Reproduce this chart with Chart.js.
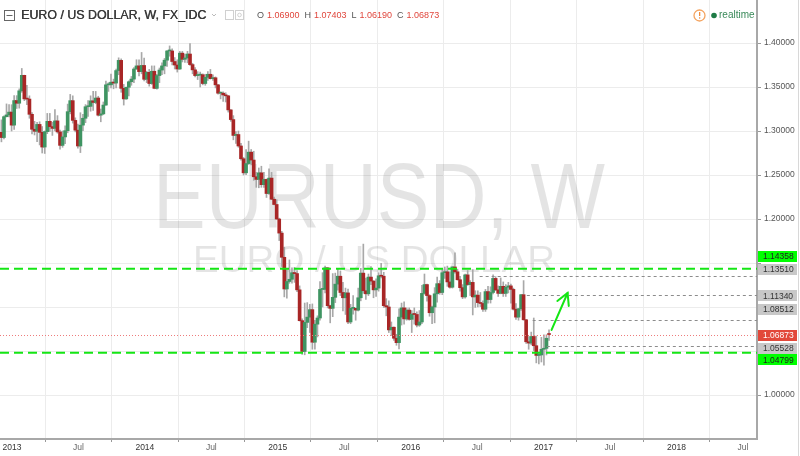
<!DOCTYPE html>
<html><head><meta charset="utf-8">
<script src="https://cdn.jsdelivr.net/npm/chart.js@4/dist/chart.umd.min.js"></script>
<style>html,body{margin:0;padding:0;background:#fff}#wrap{position:relative;width:800px;height:456px}</style>
</head><body><div id="wrap"><canvas id="c"></canvas></div>
<script>
// ---- DATA (weekly EURUSD candles) ----
const firstWeek = '2012-11-26';
const openP = [
1.2973,1.2985,1.2926,1.3163,1.3183,1.3215,
1.3067,1.3346,1.3316,1.3457,1.3633,1.3365,1.3363,1.3190,1.3020,1.2997,1.3075,1.2985,1.2818,1.2993,1.3110,1.3050,1.3030,1.3115,1.2990,1.2837,1.2933,1.3004,1.3220,1.3345,1.3121,1.3010,1.2830,1.3067,1.3145,1.3276,1.3280,1.3343,1.3325,1.3375,1.3180,1.3195,1.3295,1.3525,1.3525,1.3555,1.3545,1.3687,1.3803,1.3485,1.3365,1.3497,1.3560,1.3590,1.3705,1.3740,1.3675,1.3745,
1.3588,1.3667,1.3540,1.3679,1.3485,1.3630,1.3693,1.3740,1.3805,1.3910,1.3910,1.3790,1.3750,1.3705,1.3885,1.3815,1.3830,1.3875,1.3755,1.3695,1.3630,1.3635,1.3640,1.3540,1.3610,1.3645,1.3595,1.3605,1.3525,1.3430,1.3430,1.3410,1.3400,1.3240,1.3130,1.2950,1.2960,1.2830,1.2685,1.2525,1.2630,1.2760,1.2670,1.2480,1.2450,1.2525,1.2390,1.2450,1.2290,1.2465,1.2225,1.2165,
1.2000,1.1840,1.1565,1.1205,1.1290,1.1315,1.1390,1.1380,1.1195,1.0845,1.0495,1.0825,1.0885,1.0970,1.0600,1.0805,1.0875,1.1200,1.1200,1.1445,1.1015,1.0985,1.1110,1.1260,1.1350,1.1165,1.1105,1.1160,1.0830,1.0985,1.0985,1.0965,1.1105,1.1385,1.1185,1.1150,1.1340,1.1295,1.1195,1.1215,1.1355,1.1350,1.1015,1.1000,1.0740,1.0770,1.0645,1.0595,1.0885,1.0990,1.0865,1.0965,
1.0860,1.0920,1.0915,1.0795,1.0830,1.1155,1.1255,1.1130,1.0935,1.1000,1.1150,1.1265,1.1165,1.1390,1.1400,1.1285,1.1225,1.1455,1.1400,1.1310,1.1220,1.1115,1.1365,1.1255,1.1280,1.1115,1.1135,1.1050,1.1040,1.0975,1.1175,1.1085,1.1165,1.1325,1.1195,1.1155,1.1235,1.1155,1.1225,1.1240,1.1200,1.0975,1.0885,1.0980,1.1140,1.0855,1.0605,1.0590,1.0665,1.0560,1.0450,1.0455,
1.0520,1.0530,1.0690];
const highP = [
1.3020,1.3127,1.3173,1.3308,1.3300,1.3299,
1.3404,1.3402,1.3479,1.3711,1.3635,1.3520,1.3400,1.3210,1.3110,1.3100,1.3105,1.3051,1.3000,1.3200,1.3200,1.3100,1.3245,1.3175,1.3010,1.3000,1.3060,1.3306,1.3416,1.3400,1.3150,1.3080,1.3208,1.3190,1.3300,1.3345,1.3400,1.3452,1.3450,1.3395,1.3250,1.3330,1.3568,1.3550,1.3646,1.3590,1.3705,1.3832,1.3820,1.3530,1.3500,1.3570,1.3620,1.3720,1.3810,1.3810,1.3893,1.3830,
1.3680,1.3700,1.3740,1.3740,1.3645,1.3716,1.3775,1.3825,1.3915,1.3967,1.3935,1.3835,1.3810,1.3905,1.3905,1.3875,1.3905,1.3993,1.3770,1.3720,1.3675,1.3670,1.3650,1.3645,1.3675,1.3700,1.3640,1.3615,1.3530,1.3445,1.3445,1.3435,1.3405,1.3245,1.3175,1.2995,1.3000,1.2860,1.2700,1.2790,1.2885,1.2790,1.2770,1.2530,1.2580,1.2600,1.2530,1.2455,1.2570,1.2530,1.2250,1.2220,
1.2010,1.1860,1.1680,1.1425,1.1535,1.1445,1.1450,1.1415,1.1240,1.0865,1.1045,1.1050,1.1030,1.1035,1.0850,1.0900,1.1290,1.1390,1.1465,1.1450,1.1020,1.1380,1.1385,1.1435,1.1410,1.1280,1.1215,1.1205,1.1030,1.1130,1.0990,1.1215,1.1440,1.1715,1.1330,1.1375,1.1460,1.1300,1.1320,1.1390,1.1495,1.1395,1.1095,1.1070,1.0830,1.0775,1.0690,1.0980,1.1045,1.1060,1.0990,1.0990,
1.0960,1.0990,1.0945,1.0960,1.1245,1.1375,1.1260,1.1140,1.1010,1.1220,1.1340,1.1300,1.1440,1.1455,1.1465,1.1400,1.1460,1.1615,1.1430,1.1350,1.1255,1.1375,1.1415,1.1300,1.1425,1.1185,1.1185,1.1165,1.1070,1.1200,1.1235,1.1230,1.1365,1.1345,1.1240,1.1330,1.1285,1.1255,1.1280,1.1260,1.1215,1.1040,1.0985,1.1145,1.1300,1.0860,1.0665,1.0715,1.0875,1.0670,1.0485,1.0655,
1.0685,1.0685,1.07403];
const lowP = [
1.2920,1.2877,1.2910,1.3159,1.3160,1.3000,
1.3018,1.3256,1.3260,1.3440,1.3345,1.3300,1.3145,1.2967,1.2955,1.2880,1.2842,1.2750,1.2745,1.2970,1.2995,1.2950,1.3000,1.2975,1.2795,1.2815,1.2855,1.2980,1.3195,1.3090,1.2990,1.2805,1.2755,1.3005,1.3095,1.3165,1.3225,1.3235,1.3310,1.3170,1.3105,1.3185,1.3290,1.3450,1.3490,1.3480,1.3490,1.3640,1.3440,1.3295,1.3360,1.3400,1.3520,1.3550,1.3700,1.3625,1.3650,1.3570,
1.3550,1.3510,1.3530,1.3480,1.3475,1.3550,1.3640,1.3650,1.3735,1.3850,1.3750,1.3705,1.3670,1.3700,1.3785,1.3780,1.3775,1.3745,1.3650,1.3615,1.3585,1.3500,1.3525,1.3520,1.3575,1.3590,1.3575,1.3490,1.3420,1.3365,1.3335,1.3330,1.3215,1.3110,1.2900,1.2860,1.2815,1.2670,1.2500,1.2505,1.2620,1.2615,1.2440,1.2360,1.2355,1.2360,1.2360,1.2245,1.2280,1.2220,1.2160,1.1995,
1.1755,1.1460,1.1115,1.1100,1.1270,1.1270,1.1280,1.1175,1.0840,1.0462,1.0457,1.0765,1.0710,1.0520,1.0520,1.0660,1.0850,1.1000,1.1160,1.0990,1.0820,1.0890,1.1050,1.1190,1.1130,1.0955,1.0915,1.0810,1.0810,1.0920,1.0850,1.0955,1.1070,1.1155,1.1085,1.1130,1.1255,1.1105,1.1120,1.1180,1.1330,1.0995,1.0900,1.0710,1.0675,1.0620,1.0565,1.0525,1.0795,1.0805,1.0850,1.0850,
1.0710,1.0805,1.0775,1.0780,1.0810,1.1145,1.1065,1.0895,1.0810,1.0820,1.1055,1.1145,1.1140,1.1325,1.1235,1.1215,1.1215,1.1385,1.1305,1.1180,1.1095,1.1100,1.1245,1.1130,1.0910,1.0995,1.1000,1.1005,1.0950,1.0950,1.1045,1.1045,1.1150,1.1185,1.1120,1.1150,1.1120,1.1120,1.1160,1.1045,1.0965,1.0860,1.0850,1.0960,1.0850,1.0585,1.0520,1.0570,1.0505,1.0365,1.0352,1.0375,
1.0340,1.0455,1.0619];
const closeP = [
1.2985,1.2926,1.3163,1.3183,1.3215,1.3067,
1.3346,1.3316,1.3457,1.3633,1.3365,1.3363,1.3190,1.3020,1.2997,1.3075,1.2985,1.2818,1.2993,1.3110,1.3050,1.3030,1.3115,1.2990,1.2837,1.2933,1.3004,1.3220,1.3345,1.3121,1.3010,1.2830,1.3067,1.3145,1.3276,1.3280,1.3343,1.3325,1.3375,1.3180,1.3195,1.3295,1.3525,1.3525,1.3555,1.3545,1.3687,1.3803,1.3485,1.3365,1.3497,1.3560,1.3590,1.3705,1.3740,1.3675,1.3745,1.3588,
1.3667,1.3540,1.3679,1.3485,1.3630,1.3693,1.3740,1.3805,1.3910,1.3910,1.3790,1.3750,1.3705,1.3885,1.3815,1.3830,1.3875,1.3755,1.3695,1.3630,1.3635,1.3640,1.3540,1.3610,1.3645,1.3595,1.3605,1.3525,1.3430,1.3430,1.3410,1.3400,1.3240,1.3130,1.2950,1.2960,1.2830,1.2685,1.2525,1.2630,1.2760,1.2670,1.2480,1.2450,1.2525,1.2390,1.2450,1.2290,1.2465,1.2225,1.2165,1.2000,
1.1840,1.1565,1.1205,1.1290,1.1315,1.1390,1.1380,1.1195,1.0845,1.0495,1.0825,1.0885,1.0970,1.0600,1.0805,1.0875,1.1200,1.1200,1.1445,1.1015,1.0985,1.1110,1.1260,1.1350,1.1165,1.1105,1.1160,1.0830,1.0985,1.0985,1.0965,1.1105,1.1385,1.1185,1.1150,1.1340,1.1295,1.1195,1.1215,1.1355,1.1350,1.1015,1.1000,1.0740,1.0770,1.0645,1.0595,1.0885,1.0990,1.0865,1.0965,1.0860,
1.0920,1.0915,1.0795,1.0830,1.1155,1.1255,1.1130,1.0935,1.1000,1.1150,1.1265,1.1165,1.1390,1.1400,1.1285,1.1225,1.1455,1.1400,1.1310,1.1220,1.1115,1.1365,1.1255,1.1280,1.1115,1.1135,1.1050,1.1040,1.0975,1.1175,1.1085,1.1165,1.1325,1.1195,1.1155,1.1235,1.1155,1.1225,1.1240,1.1200,1.0975,1.0885,1.0980,1.1140,1.0855,1.0605,1.0590,1.0665,1.0560,1.0450,1.0455,1.0520,
1.0530,1.0645,1.06873];

const xTickValues = [2013,2013.5,2014,2014.5,2015,2015.5,2016,2016.5,2017,2017.5,2018,2018.5];
const xTickLabels = ['2013','Jul','2014','Jul','2015','Jul','2016','Jul','2017','Jul','2018','Jul'];
const yTickValues = [1.00,1.05,1.10,1.15,1.20,1.25,1.30,1.35,1.40];
const yTickLabels = ['1.00000','','','','1.20000','1.25000','1.30000','1.35000','1.40000'];

const channelLevels = [1.14358, 1.04799];
const targetLevels  = [1.13510, 1.11340, 1.08512, 1.05528];
const targetStarts  = ['2016-07-09', '2016-11-16', '2016-12-02', '2017-01-10'];
const lastPrice = 1.06873;
const arrowFrom = {date: '2017-01-23', price: 1.0739};
const arrowTo   = {date: '2017-03-08', price: 1.1159};

// ---- helpers ----
function fracYearUTC(t) {
  const d = new Date(t); const Y = d.getUTCFullYear();
  const a = Date.UTC(Y,0,1), b = Date.UTC(Y+1,0,1);
  return Y + (t - a) / (b - a);
}
function fracYear(s) { const [Y,M,D] = s.split('-').map(Number); return fracYearUTC(Date.UTC(Y,M-1,D)); }
const [fy, fm, fd] = firstWeek.split('-').map(Number);
const t0 = Date.UTC(fy, fm-1, fd);
const weekX = closeP.map((_, i) => fracYearUTC(t0 + i*7*86400000));

const UP = '#3f9462', DOWN = '#a82626';
const wickData = weekX.map((x,i) => ({x, y: [Math.min(lowP[i],openP[i],closeP[i]), Math.max(highP[i],openP[i],closeP[i])]}));
const bodyData = weekX.map((x,i) => ({x, y: [openP[i], closeP[i]]}));
const bodyColors = closeP.map((c,i) => c >= openP[i] ? UP : DOWN);

const FONT = '"Liberation Sans", Arial, sans-serif';

const overlay = {
  id: 'overlay',
  beforeDatasetsDraw(chart) {
    const ctx = chart.ctx, ca = chart.chartArea;
    ctx.save();
    ctx.beginPath(); ctx.rect(ca.left, ca.top, ca.right-ca.left, ca.bottom-ca.top); ctx.clip();
    ctx.fillStyle = 'rgba(0,0,0,0.105)';
    const fit = (text, cx, base, size, targetW) => {
      ctx.save();
      ctx.font = size + 'px ' + FONT;
      const w = ctx.measureText(text).width;
      ctx.translate(cx, base); ctx.scale(targetW / w, 1);
      ctx.textAlign = 'center'; ctx.textBaseline = 'alphabetic';
      ctx.fillText(text, 0, 0);
      ctx.restore();
    };
    fit('EURUSD, W', 379, 228, 92, 452);
    fit('EURO / US DOLLAR', 374, 272, 37, 362);
    ctx.restore();
  },
  afterDatasetsDraw(chart) {
    const ctx = chart.ctx, ca = chart.chartArea, xs = chart.scales.x, ys = chart.scales.y;
    ctx.save();
    ctx.beginPath(); ctx.rect(ca.left, ca.top, ca.right-ca.left, ca.bottom-ca.top); ctx.clip();
    ctx.strokeStyle = '#ee7b7b'; ctx.lineWidth = 1; ctx.setLineDash([1,2]);
    let y = Math.round(ys.getPixelForValue(lastPrice)) + 0.5;
    ctx.beginPath(); ctx.moveTo(ca.left, y); ctx.lineTo(ca.right, y); ctx.stroke();
    ctx.strokeStyle = '#8c8c8c'; ctx.setLineDash([3,3]);
    targetLevels.forEach((v, i) => {
      const yy = Math.round(ys.getPixelForValue(v)) + 0.5;
      const x0 = xs.getPixelForValue(fracYear(targetStarts[i]));
      ctx.beginPath(); ctx.moveTo(x0, yy); ctx.lineTo(ca.right, yy); ctx.stroke();
    });
    ctx.strokeStyle = '#14e614'; ctx.lineWidth = 2; ctx.setLineDash([9,5]);
    channelLevels.forEach(v => {
      const yy = ys.getPixelForValue(v);
      ctx.beginPath(); ctx.moveTo(ca.left, yy); ctx.lineTo(ca.right, yy); ctx.stroke();
    });
    ctx.setLineDash([]); ctx.lineWidth = 2; ctx.strokeStyle = '#14e614'; ctx.lineCap = 'round';
    const x1 = xs.getPixelForValue(fracYear(arrowFrom.date)), y1 = ys.getPixelForValue(arrowFrom.price);
    const x2 = xs.getPixelForValue(fracYear(arrowTo.date)), y2 = ys.getPixelForValue(arrowTo.price);
    ctx.beginPath(); ctx.moveTo(x1, y1); ctx.lineTo(x2, y2); ctx.stroke();
    const ang = Math.atan2(y2 - y1, x2 - x1), L = 13, spread = 0.5;
    ctx.beginPath();
    ctx.moveTo(x2 - L*Math.cos(ang - spread), y2 - L*Math.sin(ang - spread));
    ctx.lineTo(x2, y2);
    ctx.lineTo(x2 - L*Math.cos(ang + spread), y2 - L*Math.sin(ang + spread));
    ctx.stroke();
    ctx.restore();
  },
  afterDraw(chart) {
    const ctx = chart.ctx, ys = chart.scales.y, ca = chart.chartArea;
    ctx.save();
    const tags = [
      {v: channelLevels[0], bg: '#00ff00', fg: '#222', dy: -12.5},
      {v: targetLevels[0], bg: '#c8c8c8', fg: '#333', dy: -7},
      {v: targetLevels[1], bg: '#c8c8c8', fg: '#333', dy: 0.5},
      {v: targetLevels[2], bg: '#c8c8c8', fg: '#333', dy: -11},
      {v: lastPrice, bg: '#e2483a', fg: '#fff', dy: 0.5},
      {v: targetLevels[3], bg: '#c8c8c8', fg: '#333', dy: 2},
      {v: channelLevels[1], bg: '#00ff00', fg: '#222', dy: 7.2}
    ];
    ctx.font = '8.5px ' + FONT; ctx.textBaseline = 'middle'; ctx.textAlign = 'left';
    tags.forEach(t => {
      const yc = ys.getPixelForValue(t.v) + t.dy;
      ctx.fillStyle = t.bg; ctx.fillRect(ca.right + 1, Math.round(yc - 5.5), 39, 11);
      ctx.fillStyle = t.fg; ctx.fillText(t.v.toFixed(5), ca.right + 6, yc + 0.5);
    });
    const last = closeP.length - 1;
    ctx.strokeStyle = '#666'; ctx.lineWidth = 1;
    ctx.strokeRect(4.5, 10.5, 10, 10);
    ctx.beginPath(); ctx.moveTo(6.5, 15.5); ctx.lineTo(12.5, 15.5); ctx.stroke();
    ctx.fillStyle = '#3a3a3a'; ctx.font = '12.4px ' + FONT; ctx.textBaseline = 'middle';
    ctx.fillText('EURO / US DOLLAR, W, FX_IDC', 21, 15.5);
    ctx.fillText('EURO / US DOLLAR, W, FX_IDC', 21.4, 15.5);
    ctx.strokeStyle = '#bbb';
    ctx.beginPath(); ctx.moveTo(212, 14); ctx.lineTo(214, 16); ctx.lineTo(216, 14); ctx.stroke();
    ctx.strokeStyle = '#d0d0d0';
    ctx.strokeRect(225.5, 10.5, 8, 9); ctx.strokeRect(235.5, 10.5, 8, 9);
    ctx.beginPath(); ctx.arc(239.5, 15, 1.8, 0, Math.PI*2); ctx.stroke();
    let x = 257;
    const parts = [['O', openP[last]], ['H', highP[last]], ['L', lowP[last]], ['C', closeP[last]]];
    ctx.font = '9px ' + FONT;
    parts.forEach(([k, v]) => {
      ctx.fillStyle = '#555'; ctx.fillText(k, x, 15.5); x += ctx.measureText(k).width + 3;
      ctx.fillStyle = '#e0463c'; const s = v.toFixed(5); ctx.fillText(s, x, 15.5); x += ctx.measureText(s).width + 5;
    });
    ctx.strokeStyle = '#f4a460'; ctx.lineWidth = 1.3;
    ctx.beginPath(); ctx.arc(699.5, 15.5, 5.5, 0, Math.PI*2); ctx.stroke();
    ctx.fillStyle = '#f08c3c'; ctx.fillRect(699, 12, 1.3, 4); ctx.fillRect(699, 17.3, 1.3, 1.3);
    ctx.fillStyle = '#1e7b45'; ctx.beginPath(); ctx.arc(714, 15.5, 2.8, 0, Math.PI*2); ctx.fill();
    ctx.fillStyle = '#3a8a5a'; ctx.font = '10px ' + FONT;
    ctx.fillText('realtime', 719, 15.5);
    ctx.strokeStyle = '#d8d8d8'; ctx.lineWidth = 1;
    ctx.beginPath(); ctx.moveTo(798.5, 0); ctx.lineTo(798.5, 456); ctx.stroke();
    ctx.restore();
  }
};

new Chart(document.getElementById('c'), {
  type: 'bar',
  data: {
    datasets: [
      {label: 'wick', data: wickData, backgroundColor: '#a8a8a8', barThickness: 1, grouped: false, order: 2},
      {label: 'body', data: bodyData, backgroundColor: bodyColors, barThickness: 3, minBarLength: 1, grouped: false, order: 1}
    ]
  },
  options: {
    responsive: true, maintainAspectRatio: false, animation: false,
    layout: {padding: 0},
    plugins: {legend: {display: false}, tooltip: {enabled: false}},
    scales: {
      x: {
        type: 'linear', min: 2012.91, max: 2018.606, offset: false,
        afterBuildTicks: s => { s.ticks = xTickValues.map(v => ({value: v})); },
        afterFit: s => { s.height = 17; s.paddingLeft = 0; s.paddingRight = 0; },
        ticks: {autoSkip: false, maxRotation: 0, padding: 1,
          callback: (v, i) => xTickLabels[i],
          color: ctx => (xTickLabels[ctx.index] === 'Jul' ? '#666' : '#333'),
          font: {size: 8.5, family: FONT}},
        grid: {color: '#ececec', tickColor: '#999', tickLength: 3},
        border: {color: '#a8a8a8', width: 2}
      },
      y: {
        position: 'right', min: 0.95, max: 1.4489,
        afterBuildTicks: s => { s.ticks = yTickValues.map(v => ({value: v})); },
        afterFit: s => { s.width = 43; s.paddingTop = 0; s.paddingBottom = 0; },
        ticks: {padding: 3, callback: (v, i) => yTickLabels[i], color: '#555', font: {size: 8.5, family: FONT}},
        grid: {color: '#ececec', tickColor: '#999', tickLength: 4},
        border: {color: '#a8a8a8', width: 2}
      }
    }
  },
  plugins: [overlay]
});
</script>
</body></html>
